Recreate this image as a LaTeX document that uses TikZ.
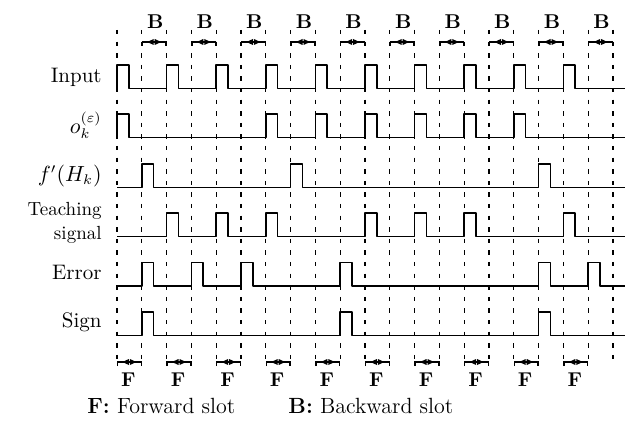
\documentclass[tikz,border=0pt]{standalone}
\usetikzlibrary{calc}
\begin{document}
\begin{tikzpicture}[x=0.5pt,y=-0.5pt,
  sig/.style={line width=0.75pt, line join=round},
  gridln/.style={line width=0.6pt, dash pattern=on 2.2pt off 3.6pt},
  lab/.style={anchor=east, font=\fontsize{10.5}{12}\selectfont, inner sep=0pt, align=right},
  slotlab/.style={font=\fontsize{10}{10}\selectfont\bfseries, inner sep=0pt},
  legend/.style={anchor=west, font=\fontsize{11}{12}\selectfont, inner sep=0pt},
  brk/.style={line width=0.7pt}
]
\useasboundingbox (0,0) rectangle (640,421);
\def\xo{117}
\def\dx{24.8}
\def\pw{11.8}
\def\xend{625}
\def\ph{23.5}

% dashed time grid
\foreach \i in {0,...,20}
  \draw[gridln] ({\xo+\i*\dx},30) -- ({\xo+\i*\dx},366);

% waveforms
\newcommand\drawwave[2]{%
  \draw[sig] (\xo,#1) \foreach \k in {#2} {
     -- ({\xo+\k*\dx},#1) -- ({\xo+\k*\dx},#1-\ph)
     -- ({\xo+\k*\dx+\pw},#1-\ph) -- ({\xo+\k*\dx+\pw},#1) } -- (\xend,#1);}
\drawwave{88.5}{0,2,4,6,8,10,12,14,16,18}
\drawwave{137.5}{0,6,8,10,12,14,16}
\drawwave{187.5}{1,7,17}
\drawwave{236.5}{2,4,6,10,12,14,18}
\drawwave{286}{1,3,5,9,17,19}
\drawwave{335.5}{1,9,17}

% row labels
\node[lab] (lin) at (102,77) {Input};
\node[lab] (lo) at (102,125) {$o_k^{(\varepsilon)}$};
\node[lab] (lf) at (102,176) {$f'(H_k)$};
\node[lab, font=\fontsize{9.5}{12}\selectfont] (lt) at (102,223) {Teaching\\signal};
\node[lab] (le) at (102,272) {Error};
\node[lab] (ls) at (102,322) {Sign};

% slot brackets
\foreach \j in {0,...,9}{
  % backward slot
  \pgfmathsetmacro\xa{\xo+(2*\j+1)*\dx}
  \pgfmathsetmacro\xb{\xo+(2*\j+2)*\dx}
  \pgfmathsetmacro\xc{(\xa+\xb)/2}
  \draw[brk] (\xa+0.5,46) -- (\xa+0.5,42) -- (\xb-0.5,42) -- (\xb-0.5,46);
  \fill (\xc-7,42) -- (\xc-0.5,39) -- (\xc-0.5,45) -- cycle;
  \fill (\xc+7,42) -- (\xc+0.5,39) -- (\xc+0.5,45) -- cycle;
  \node[slotlab] (B\j) at (\xc+1,22) {B};
  % forward slot
  \pgfmathsetmacro\ya{\xo+(2*\j)*\dx}
  \pgfmathsetmacro\yb{\xo+(2*\j+1)*\dx}
  \pgfmathsetmacro\yc{(\ya+\yb)/2}
  \draw[brk] (\ya+0.5,366) -- (\ya+0.5,362) -- (\yb-0.5,362) -- (\yb-0.5,366);
  \fill (\yc-7,362) -- (\yc-0.5,359) -- (\yc-0.5,365) -- cycle;
  \fill (\yc+7,362) -- (\yc+0.5,359) -- (\yc+0.5,365) -- cycle;
  \node[slotlab] (F\j) at (\yc-1,380) {F};
}

% legend
\node[legend] (legF) at (87,406) {\textbf{F:} Forward slot};
\node[legend] (legB) at (288,406) {\textbf{B:} Backward slot};
\end{tikzpicture}
\end{document}
